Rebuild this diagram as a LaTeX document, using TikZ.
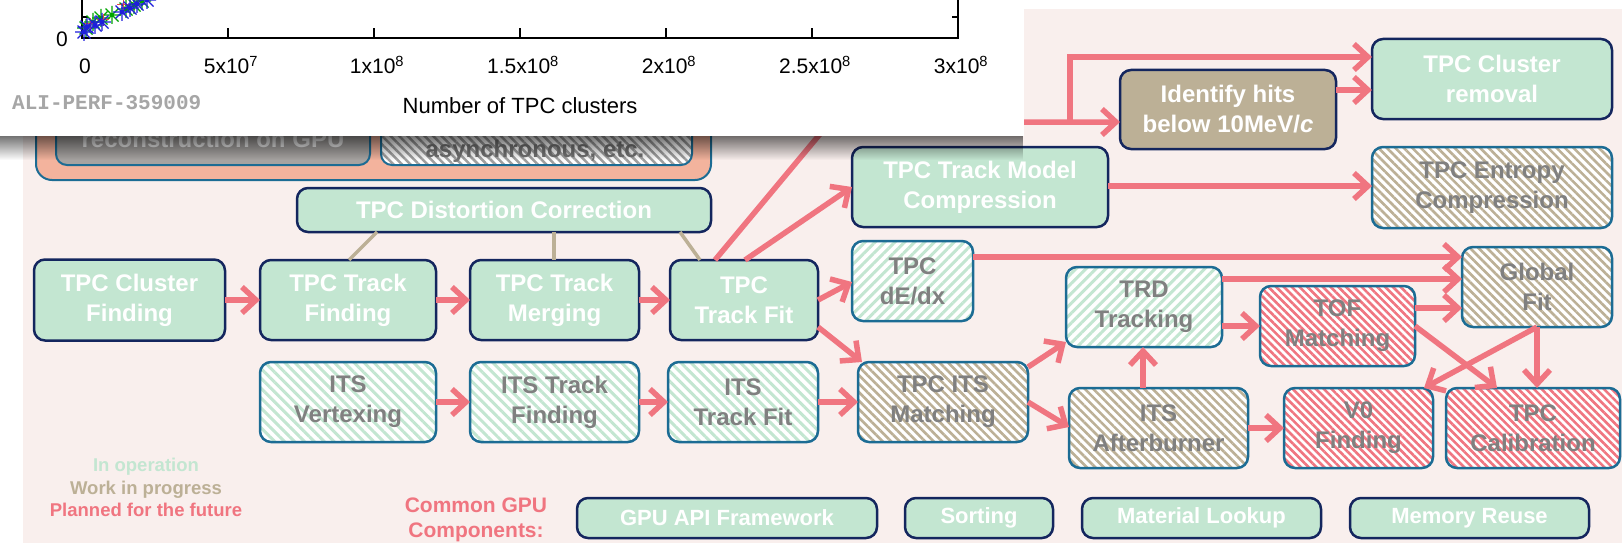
\documentclass[tikz,border=0pt]{standalone}
\usepackage{fontspec}
\setmainfont{Liberation Sans}
\setmonofont{Liberation Mono}
\usetikzlibrary{arrows.meta,patterns.meta,fadings}

\definecolor{bgpink}{RGB}{249,239,237}
\definecolor{opgreen}{RGB}{195,230,209}
\definecolor{navy}{RGB}{20,38,94}
\definecolor{edgeblue}{RGB}{28,108,148}
\definecolor{wiptan}{RGB}{188,176,150}
\definecolor{planred}{RGB}{240,117,128}
\definecolor{grpfill}{RGB}{243,179,157}
\definecolor{txtgray}{RGB}{128,128,128}
\definecolor{boxgray}{RGB}{166,163,161}
\definecolor{mkblue}{RGB}{30,30,220}
\definecolor{mkgreen}{RGB}{0,165,0}
\definecolor{mkred}{RGB}{230,70,70}

\begin{document}
\begin{tikzpicture}[x=1pt,y=-1pt,
  wh/.style 2 args={minimum width=#1pt, minimum height=#2pt},
  box/.style={rounded corners=11pt, line width=2.5pt, inner sep=0pt, outer sep=0pt,
    align=center, font=\bfseries\fontsize{24}{30}\selectfont},
  solidbox/.style={box, draw=navy, fill=opgreen, text=white},
  wipsolid/.style={box, draw=navy, fill=wiptan, text=white},
  hatchbox/.style={box, draw=edgeblue, text=txtgray, preaction={fill=white}},
  hgreen/.style={hatchbox, pattern={Lines[angle=45,distance=7pt,line width=3pt]}, pattern color=opgreen},
  hgreenb/.style={hatchbox, pattern={Lines[angle=-45,distance=7pt,line width=3pt]}, pattern color=opgreen},
  htan/.style={hatchbox, pattern={Lines[angle=-45,distance=6pt,line width=2.6pt]}, pattern color=wiptan},
  hred/.style={hatchbox, pattern={Lines[angle=-45,distance=5.5pt,line width=2.6pt]}, pattern color=planred},
  common/.style={solidbox, font=\bfseries\fontsize{22}{26}\selectfont, minimum height=40pt},
  legend/.style={inner sep=0pt, anchor=base, font=\bfseries\fontsize{18.5}{22}\selectfont},
  arr/.style={draw=planred, line width=5.5pt, -{Straight Barb[length=14pt,width=26pt]}},
  link/.style={draw=wiptan, line width=3.5pt},
  ticklab/.style={inner sep=0pt, anchor=base, font=\fontsize{21}{25}\selectfont},
  ast/.pic={\draw[line width=1.1pt] (-9,0) -- (9,0) (0,-9) -- (0,9) (-6.5,-6.5) -- (6.5,6.5) (-6.5,6.5) -- (6.5,-6.5);},
]
\clip (0,0) rectangle (1622,543);
\fill[white] (0,0) rectangle (1622,543);
\fill[bgpink] (23,9) rectangle (1622,543);

% reconstruction group, upper part hidden below the plot panel
\node[box, draw=edgeblue, line width=2pt, fill=grpfill, rounded corners=16pt, wh={675}{140}] (grp) at (373.5,110) {};
\node[box, draw=edgeblue, line width=2pt, fill=boxgray, wh={314}{95}] (gpubox) at (213,117.5) {};
\node[box, draw=edgeblue, line width=2pt, preaction={fill=white},
      pattern={Lines[angle=-45,distance=6pt,line width=2.5pt]}, pattern color=gray!75, wh={311}{95}] (asyncbox) at (536.5,117.5) {};
\node[inner sep=0pt, anchor=base, font=\bfseries\fontsize{24}{30}\selectfont, text=white!85!gray] (gputxt) at (213,147) {reconstruction on GPU};
\node[inner sep=0pt, anchor=base, font=\bfseries\fontsize{24}{30}\selectfont, text=gray!90!black] (asynctxt) at (535,157) {asynchronous, etc.};

% TPC chain
\node[solidbox, wh={191}{81}] (cf) at (129.5,300) {TPC Cluster\\Finding};
\node[solidbox, wh={176}{80}] (tfind) at (348,300) {TPC Track\\Finding};
\node[solidbox, wh={169}{80}] (tmerge) at (554.5,300) {TPC Track\\Merging};
\node[solidbox, wh={148}{80}] (tfit) at (744,300) {TPC\\Track Fit};
\node[solidbox, wh={414}{44}] (dist) at (504,210) {TPC Distortion Correction};

% ITS chain
\node[hgreenb, wh={176}{80}] (itsv) at (348,402) {ITS\\Vertexing};
\node[hgreenb, wh={169}{80}] (itsf) at (554.5,402) {ITS Track\\Finding};
\node[hgreenb, wh={150}{80}] (itsfit) at (743,402) {ITS\\Track Fit};
\node[htan, wh={170}{80}] (tpcits) at (943,402) {TPC ITS\\Matching};

% downstream steps
\node[hgreen, wh={121}{80}] (dedx) at (912.5,281) {TPC\\dE/dx};
\node[solidbox, wh={256}{80}] (tmc) at (980,187) {TPC Track Model\\Compression};
\node[wipsolid, wh={216}{79}] (idhits) at (1228,109.5) {Identify hits\\below 10MeV/\textit{c}};
\node[solidbox, wh={240}{80}] (clrem) at (1492,79) {TPC Cluster\\removal};
\node[htan, wh={240}{81}] (entropy) at (1492,187.5) {TPC Entropy\\Compression};
\node[hgreen, wh={156}{80}] (trd) at (1144,307) {TRD\\Tracking};
\node[htan, wh={179}{80}] (itsab) at (1158.5,428) {ITS\\Afterburner};
\node[hred, wh={155}{80}] (tof) at (1337.5,326) {TOF\\Matching};
\node[htan, wh={150}{80}] (glob) at (1537,287) {Global\\Fit};
\node[hred, wh={149}{80}] (v0) at (1358.5,428) {V0\\Finding};
\node[hred, wh={174}{80}] (tcal) at (1533,428) {TPC\\Calibration};

% common components
\node[common, minimum width=300pt] (api) at (727,518) {GPU API Framework};
\node[common, minimum width=148pt] (sort) at (979,518) {Sorting};
\node[common, minimum width=239pt] (mat) at (1201.5,518) {Material Lookup};
\node[common, minimum width=239pt] (mem) at (1469.5,518) {Memory Reuse};
\node[inner sep=0pt, anchor=base, font=\bfseries\fontsize{21}{25}\selectfont, text=planred] (cgc1) at (476,512) {Common GPU};
\node[inner sep=0pt, anchor=base, font=\bfseries\fontsize{21}{25}\selectfont, text=planred] (cgc2) at (476,537) {Components:};

% legend
\node[legend, text=opgreen] (leg1) at (146,471) {In operation};
\node[legend, text=wiptan] (leg2) at (146,494) {Work in progress};
\node[legend, text=planred] (leg3) at (146,516) {Planned for the future};

% distortion correction links
\draw[link] (dist.south -| 377,0) -- (tfind.north -| 349,0);
\draw[link] (dist.south -| 554,0) -- (tmerge.north -| 554,0);
\draw[link] (dist.south -| 680,0) -- (tfit.north -| 700,0);

% data flow
\draw[arr] (cf.east) -- (tfind.west);
\draw[arr] (tfind.east) -- (tmerge.west);
\draw[arr] (tmerge.east) -- (tfit.west);
\draw[arr] (itsv.east) -- (itsf.west);
\draw[arr] (itsf.east) -- (itsfit.west);
\draw[arr] (itsfit.east) -- (tpcits.west);
\draw[arr] (tfit.east |- 0,327) -- ([xshift=4pt]tpcits.north west);
\draw[arr] (tfit.east) -- (dedx.west |- 0,282);
\draw[arr] (tfit.north -| 745,0) -- (tmc.west |- 0,187);
\coordinate (split) at (1070,122);
\draw[arr] (tfit.north -| 715,0) -- (830,122) -- (idhits.west |- 0,122);
\draw[arr] (split) -- (1070,57) -- (clrem.west |- 0,57);
\draw[arr] (idhits.east |- 0,90) -- (clrem.west |- 0,90);
\draw[arr] (tmc.east |- 0,186) -- (entropy.west |- 0,186);
\draw[arr] (dedx.east |- 0,257) -- (glob.west |- 0,257);
\draw[arr] (trd.east |- 0,279) -- (glob.west |- 0,279);
\draw[arr] (trd.east |- 0,326) -- (tof.west |- 0,326);
\draw[arr] (tof.east |- 0,308) -- (glob.west |- 0,308);
\draw[arr] (tpcits.east |- 0,367) -- (trd.west |- 0,342);
\draw[arr] (tpcits.east) -- (itsab.west |- 0,427);
\draw[arr] (itsab.north -| 1143,0) -- (trd.south -| 1143,0);
\draw[arr] (itsab.east) -- (v0.west);
\draw[arr] (glob.south) -- (v0.north -| 1424,0);
\draw[arr] (glob.south) -- (glob.south |- tcal.north);
\draw[arr] (tof.east |- 0,326) -- (tcal.north -| 1497,0);

% plot panel in front
\fill[white] (0,0) rectangle (1024,136);
\fill[black, fill opacity=0.55, path fading=south] (0,136) rectangle (1024,160);

\draw[line width=1.6pt] (82,-2) -- (82,38) -- (958,38) -- (958,-2);
\foreach \tx in {228,374,520,666,812} \draw[line width=1.4pt] (\tx,38) -- (\tx,28);
\draw[line width=1.4pt] (82,17) -- (88,17) (958,17) -- (952,17);

% measured points
\foreach \px/\py in {86/28,93/22,101/18,112/15,126/9,134/5,142/1}
  \pic[draw=mkgreen] at (\px,\py) {ast};
\foreach \px/\py in {90/24,103/20,123/5}
  \draw[mkred, line width=1pt] (\px-6,\py) -- (\px+6,\py) (\px,\py-6) -- (\px,\py+6);
\foreach \px/\py in {84/32,87/27,95/25,102/22,122/12,130/8,137/4,147/0}
  \pic[draw=mkblue] at (\px,\py) {ast};

\node[ticklab] (y0) at (62,47) {0};
\node[ticklab] (x0) at (85,74) {0};
\node[ticklab] (x1) at (231,74) {5x10\textsuperscript{7}};
\node[ticklab] (x2) at (377,74) {1x10\textsuperscript{8}};
\node[ticklab] (x3) at (523,74) {1.5x10\textsuperscript{8}};
\node[ticklab] (x4) at (669,74) {2x10\textsuperscript{8}};
\node[ticklab] (x5) at (815,74) {2.5x10\textsuperscript{8}};
\node[ticklab] (x6) at (961,74) {3x10\textsuperscript{8}};
\node[ticklab, font=\fontsize{22}{26}\selectfont] (xlab) at (520,113) {Number of TPC clusters};
\node[inner sep=0pt, anchor=base west, font=\ttfamily\bfseries\fontsize{21}{25}\selectfont, text=gray!70] (perf) at (12,109) {ALI-PERF-359009};
\end{tikzpicture}
\end{document}
